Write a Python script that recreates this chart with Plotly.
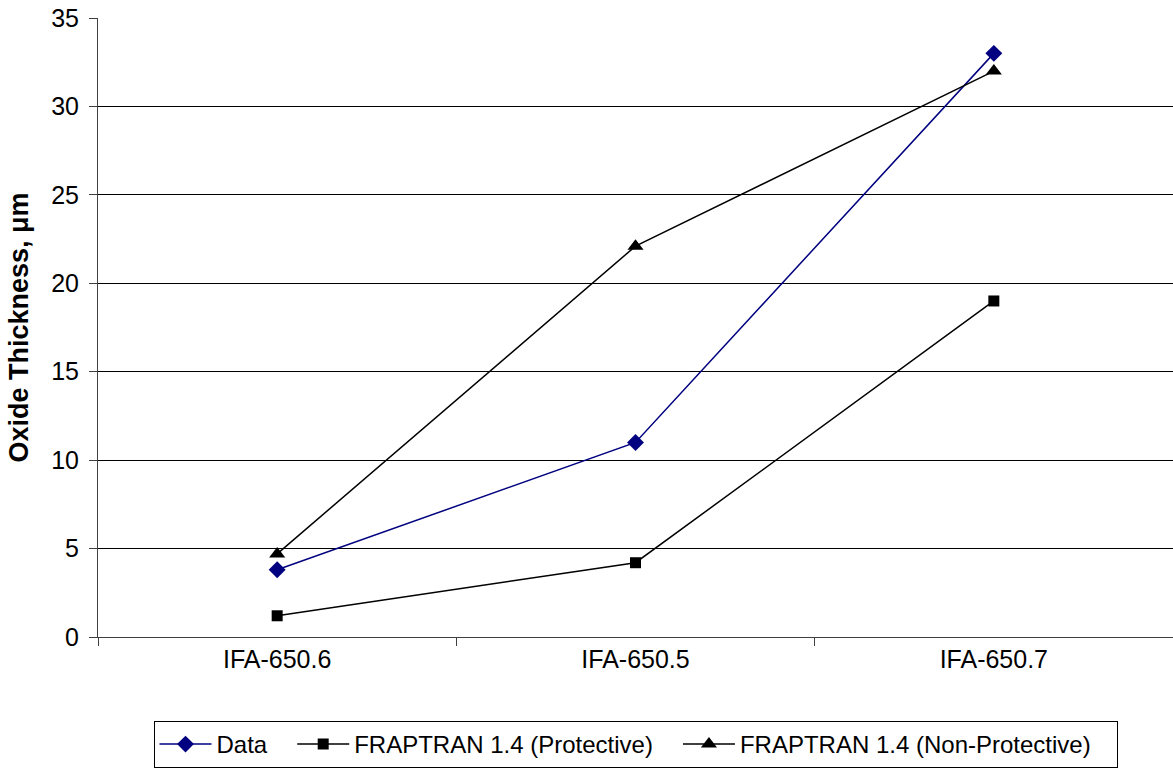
import plotly.graph_objects as go

categories = ["IFA-650.6", "IFA-650.5", "IFA-650.7"]
data_vals = [3.8, 11.0, 33.0]
protective_vals = [1.2, 4.2, 19.0]
nonprotective_vals = [4.7, 22.1, 32.0]
y_ticks = [0, 5, 10, 15, 20, 25, 30, 35]
series_names = ["Data", "FRAPTRAN 1.4 (Protective)", "FRAPTRAN 1.4 (Non-Protective)"]

FONT = "Liberation Sans, Arial, sans-serif"
PAD = "\u00a0\u00a0\u00a0"

fig = go.Figure()
fig.add_trace(go.Scatter(
    x=categories, y=data_vals, name=series_names[0] + PAD, mode="lines+markers",
    line=dict(color="#000080", width=1.5),
    marker=dict(symbol="diamond", size=13, color="#000080"),
))
fig.add_trace(go.Scatter(
    x=categories, y=protective_vals, name=series_names[1] + PAD, mode="lines+markers",
    line=dict(color="#000000", width=1.5),
    marker=dict(symbol="square", size=11, color="#000000"),
))
fig.add_trace(go.Scatter(
    x=categories, y=nonprotective_vals, name=series_names[2] + PAD, mode="lines+markers",
    line=dict(color="#000000", width=1.5),
    marker=dict(symbol="triangle-up", size=14, color="#000000"),
))

fig.update_layout(
    width=1173, height=768,
    margin=dict(l=98, r=0, t=18, b=130),
    paper_bgcolor="white", plot_bgcolor="white",
    font=dict(family=FONT, size=25, color="black"),
    showlegend=True,
    legend=dict(
        orientation="h", x=0.5, xanchor="center", y=-0.1355, yanchor="top",
        bordercolor="black", borderwidth=1,
        font=dict(family=FONT, size=24),
        itemwidth=52, tracegroupgap=0,
    ),
    xaxis=dict(
        type="category", range=[-0.5, 2.5],
        showline=True, linecolor="#404040", linewidth=1,
        ticks="outside", ticklen=8, tickcolor="#404040", tickson="boundaries",
        showgrid=False, tickfont=dict(size=25),
    ),
    yaxis=dict(
        range=[0, 35], tickvals=y_ticks,
        showline=True, linecolor="#404040", linewidth=1,
        ticks="outside", ticklen=8, tickcolor="#404040",
        ticklabelstandoff=5,
        showgrid=True, gridcolor="black", gridwidth=1,
        zeroline=False, tickfont=dict(size=25),
        title=dict(text="<b>Oxide Thickness, μm</b>", font=dict(size=27), standoff=14),
    ),
)

fig.write_html("out.html", config={"displayModeBar": False},
               post_script="document.body.style.margin='0';")
